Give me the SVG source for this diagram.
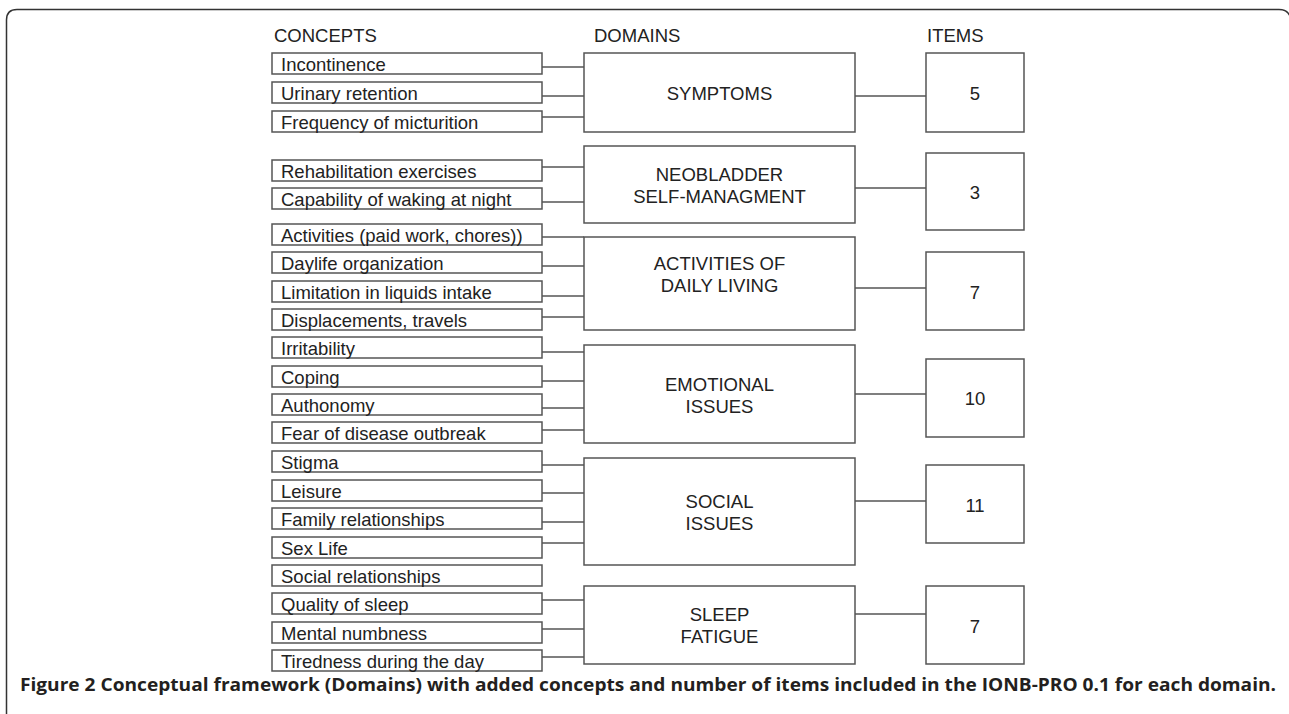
<svg xmlns="http://www.w3.org/2000/svg" width="1289" height="714" viewBox="0 0 1289 714">
<style>
.bx{fill:#fff;stroke:#555;stroke-width:1.5}
.ln{fill:none;stroke:#555;stroke-width:1.5}
.t{font-family:"Liberation Sans",Arial,sans-serif;font-size:18.5px;fill:#222}
.c{text-anchor:middle}
.cap{font-family:"Open Sans","Liberation Sans",sans-serif;font-weight:bold;font-size:18px;fill:#231f20}
</style>
<rect width="1289" height="714" fill="#fff"/>
<path class="ln" d="M6.5,714 V20 Q6.5,9.5 17,9.5 H1279 Q1287,9.5 1290,16" style="stroke:#333"/>
<g id="headers">
<text class="t" x="274" y="42">CONCEPTS</text>
<text class="t" x="594" y="42">DOMAINS</text>
<text class="t" x="927" y="42">ITEMS</text>
</g>
<g id="connectors">
<path class="ln" d="M542,67H584M542,96H584M542,117H584M542,167H584M542,202H584M542,237H584M542,266H584M542,296H584M542,317H584M542,352H584M542,381H584M542,408H584M542,430H584M542,465H584M542,493H584M542,522H584M542,543H584M542,600H584M542,629H584M542,657H584"/>
<path class="ln" d="M855,96H926M855,188H926M855,288H926M855,394H926M855,501H926M855,614H926"/>
</g>
<g id="c1"><rect class="bx" x="272" y="53" width="270" height="21"/><text class="t" x="281" y="71">Incontinence</text></g>
<g id="c2"><rect class="bx" x="272" y="82" width="270" height="21"/><text class="t" x="281" y="100">Urinary retention</text></g>
<g id="c3"><rect class="bx" x="272" y="111" width="270" height="21"/><text class="t" x="281" y="129">Frequency of micturition</text></g>
<g id="c4"><rect class="bx" x="272" y="160" width="270" height="21"/><text class="t" x="281" y="178">Rehabilitation exercises</text></g>
<g id="c5"><rect class="bx" x="272" y="188" width="270" height="21"/><text class="t" x="281" y="206">Capability of waking at night</text></g>
<g id="c6"><rect class="bx" x="272" y="224" width="270" height="21"/><text class="t" x="281" y="242">Activities (paid work, chores))</text></g>
<g id="c7"><rect class="bx" x="272" y="252" width="270" height="21"/><text class="t" x="281" y="270">Daylife organization</text></g>
<g id="c8"><rect class="bx" x="272" y="281" width="270" height="21"/><text class="t" x="281" y="299">Limitation in liquids intake</text></g>
<g id="c9"><rect class="bx" x="272" y="309" width="270" height="21"/><text class="t" x="281" y="327">Displacements, travels</text></g>
<g id="c10"><rect class="bx" x="272" y="337" width="270" height="21"/><text class="t" x="281" y="355">Irritability</text></g>
<g id="c11"><rect class="bx" x="272" y="366" width="270" height="21"/><text class="t" x="281" y="384">Coping</text></g>
<g id="c12"><rect class="bx" x="272" y="394" width="270" height="21"/><text class="t" x="281" y="412">Authonomy</text></g>
<g id="c13"><rect class="bx" x="272" y="422" width="270" height="21"/><text class="t" x="281" y="440">Fear of disease outbreak</text></g>
<g id="c14"><rect class="bx" x="272" y="451" width="270" height="21"/><text class="t" x="281" y="469">Stigma</text></g>
<g id="c15"><rect class="bx" x="272" y="480" width="270" height="21"/><text class="t" x="281" y="498">Leisure</text></g>
<g id="c16"><rect class="bx" x="272" y="508" width="270" height="21"/><text class="t" x="281" y="526">Family relationships</text></g>
<g id="c17"><rect class="bx" x="272" y="537" width="270" height="21"/><text class="t" x="281" y="555">Sex Life</text></g>
<g id="c18"><rect class="bx" x="272" y="565" width="270" height="21"/><text class="t" x="281" y="583">Social relationships</text></g>
<g id="c19"><rect class="bx" x="272" y="593" width="270" height="21"/><text class="t" x="281" y="611">Quality of sleep</text></g>
<g id="c20"><rect class="bx" x="272" y="622" width="270" height="21"/><text class="t" x="281" y="640">Mental numbness</text></g>
<g id="c21"><rect class="bx" x="272" y="650" width="270" height="21"/><text class="t" x="281" y="668">Tiredness during the day</text></g>
<g id="d1"><rect class="bx" x="584" y="53" width="271" height="79"/><text class="t c" x="719.5" y="100">SYMPTOMS</text></g>
<g id="d2"><rect class="bx" x="584" y="146" width="271" height="77"/><text class="t c" x="719.5" y="181">NEOBLADDER</text><text class="t c" x="719.5" y="203">SELF-MANAGMENT</text></g>
<g id="d3"><rect class="bx" x="584" y="237" width="271" height="93"/><text class="t c" x="719.5" y="270">ACTIVITIES OF</text><text class="t c" x="719.5" y="292">DAILY LIVING</text></g>
<g id="d4"><rect class="bx" x="584" y="345" width="271" height="98"/><text class="t c" x="719.5" y="391">EMOTIONAL</text><text class="t c" x="719.5" y="413">ISSUES</text></g>
<g id="d5"><rect class="bx" x="584" y="458" width="271" height="107"/><text class="t c" x="719.5" y="508">SOCIAL</text><text class="t c" x="719.5" y="530">ISSUES</text></g>
<g id="d6"><rect class="bx" x="584" y="586" width="271" height="78"/><text class="t c" x="719.5" y="621">SLEEP</text><text class="t c" x="719.5" y="643">FATIGUE</text></g>
<g id="i1"><rect class="bx" x="926" y="53" width="98" height="79"/><text class="t c" x="975" y="100">5</text></g>
<g id="i2"><rect class="bx" x="926" y="153" width="98" height="77"/><text class="t c" x="975" y="199">3</text></g>
<g id="i3"><rect class="bx" x="926" y="252" width="98" height="78"/><text class="t c" x="975" y="299">7</text></g>
<g id="i4"><rect class="bx" x="926" y="359" width="98" height="78"/><text class="t c" x="975" y="405">10</text></g>
<g id="i5"><rect class="bx" x="926" y="465" width="98" height="78"/><text class="t c" x="975" y="512">11</text></g>
<g id="i6"><rect class="bx" x="926" y="586" width="98" height="78"/><text class="t c" x="975" y="633">7</text></g>
<text class="cap" x="20" y="691" textLength="1256" lengthAdjust="spacingAndGlyphs">Figure 2 Conceptual framework (Domains) with added concepts and number of items included in the IONB-PRO 0.1 for each domain.</text>
</svg>
